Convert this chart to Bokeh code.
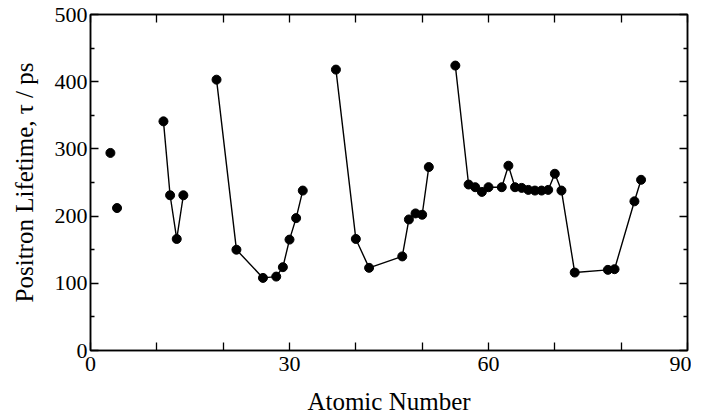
from bokeh.plotting import figure
from bokeh.models import LinearAxis, FixedTicker, Range1d, CustomJSTickFormatter
from bokeh.embed import file_html
from bokeh.resources import INLINE

# Data
z_isolated = [3, 4]
tau_isolated = [294, 212]

z_p3 = [11, 12, 13, 14]
tau_p3 = [341, 231, 166, 231]

z_p4 = [19, 22, 26, 28, 29, 30, 31, 32]
tau_p4 = [403, 150, 108, 110, 124, 165, 197, 238]

z_p5 = [37, 40, 42, 47, 48, 49, 50, 51]
tau_p5 = [418, 166, 123, 140, 195, 204, 202, 273]

z_p6 = [55, 57, 58, 59, 60, 62, 63, 64, 65, 66, 67, 68, 69, 70, 71, 73, 78, 79, 82, 83]
tau_p6 = [424, 247, 243, 236, 243, 243, 275, 243, 242, 239, 238, 238, 239, 263, 238, 116, 120, 121, 222, 254]

x_ticks = [0, 10, 20, 30, 40, 50, 60, 70, 80, 90]
x_label_ticks = [0, 30, 60, 90]
y_ticks = [0, 100, 200, 300, 400, 500]
y_minor = [50, 150, 250, 350, 450]

FONT = "Liberation Serif"

p = figure(frame_width=597, frame_height=336, output_backend="svg", toolbar_location=None,
           x_range=Range1d(0, 90), y_range=Range1d(0, 500),
           min_border_left=90, min_border_top=14, min_border_right=4, min_border_bottom=10)
p.xgrid.visible = False
p.ygrid.visible = False
p.outline_line_color = "black"
p.outline_line_width = 1.5
p.background_fill_color = "white"
p.border_fill_color = "white"

blank = CustomJSTickFormatter(code="return '';")

def style_axis(ax, labels=True):
    ax.axis_line_width = 1.5
    ax.axis_line_color = "black"
    ax.major_tick_in = 8
    ax.major_tick_out = 0
    ax.minor_tick_in = 4
    ax.minor_tick_out = 0
    ax.major_tick_line_width = 1.3
    ax.minor_tick_line_width = 1.3
    ax.major_label_text_font = FONT
    ax.major_label_text_font_size = "22px"
    ax.major_label_text_color = "black"
    ax.axis_label_text_font = FONT
    ax.axis_label_text_font_size = "25px"
    ax.axis_label_text_font_style = "normal"
    ax.axis_label_text_color = "black"
    if not labels:
        ax.formatter = blank
        ax.major_label_standoff = 0

# bottom axis: ticks every 10, labels only at 0, 30, 60, 90
p.xaxis.ticker = FixedTicker(ticks=x_ticks, minor_ticks=[])
p.xaxis.major_label_overrides = {t: "" for t in x_ticks if t not in x_label_ticks}
p.xaxis.axis_label = "Atomic Number"
p.yaxis.ticker = FixedTicker(ticks=y_ticks, minor_ticks=y_minor)
p.yaxis.axis_label = "Positron Lifetime, τ / ps"
style_axis(p.xaxis[0])
style_axis(p.yaxis[0])
p.xaxis.major_label_standoff = 6
p.xaxis.axis_label_standoff = 14
p.yaxis.major_label_standoff = 3
p.yaxis.axis_label_standoff = 14

top = LinearAxis(ticker=FixedTicker(ticks=x_ticks, minor_ticks=[]))
style_axis(top, labels=False)
p.add_layout(top, "above")
right = LinearAxis(ticker=FixedTicker(ticks=y_ticks, minor_ticks=y_minor))
style_axis(right, labels=False)
p.add_layout(right, "right")

for xs, ys in [(z_p3, tau_p3), (z_p4, tau_p4), (z_p5, tau_p5), (z_p6, tau_p6)]:
    p.line(xs, ys, line_color="black", line_width=1.4)
    p.scatter(xs, ys, size=9, fill_color="black", line_color="black")
p.scatter(z_isolated, tau_isolated, size=9, fill_color="black", line_color="black")

open("out.html", "w").write(file_html(p, INLINE))
